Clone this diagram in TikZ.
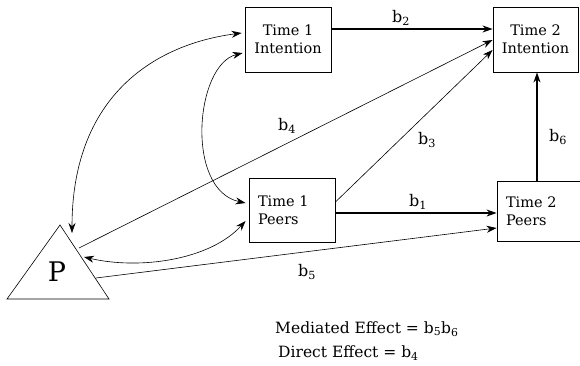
\documentclass[tikz,border=0pt]{standalone}
\usepackage{fontspec}
\setmainfont{DejaVu Serif}
\usetikzlibrary{arrows.meta,calc}
\begin{document}
\begin{tikzpicture}[x=1pt,y=-1pt,
  box/.style={draw,line width=0.9pt,minimum height=65pt,inner sep=0pt,font=\fontsize{14.5}{18}\selectfont},
  arr/.style={-{Stealth[length=10pt,width=7pt]},line width=1.1pt},
  thinarr/.style={-{Stealth[length=10pt,width=7pt]},line width=0.6pt},
  dbl/.style={{Stealth[length=10pt,width=7pt]}-{Stealth[length=10pt,width=7pt]},line width=0.6pt},
  lbl/.style={font=\fontsize{16}{18}\selectfont,inner sep=0pt},
  note/.style={anchor=base west,font=\fontsize{15.5}{18}\selectfont,inner sep=0pt}]
\useasboundingbox (0,0) rectangle (580,366);
\fill[white] (0,0) rectangle (580,366);

% boxes
\node[box,minimum width=86pt,align=center] (t1i) at (288,39.5) {Time 1\\Intention};
\node[box,minimum width=85pt,align=center] (t2i) at (535.5,39.5) {Time 2\\Intention};
\node[box,minimum height=64pt,text width=68pt,inner xsep=9pt,align=left] (t1p) at (292,210) {Time 1\\Peers};
\node[box,minimum height=60pt,text width=65pt,inner xsep=9pt,align=left] (t2p) at (538.5,211) {Time 2\\Peers};

% triangle P
\coordinate (pa) at (60,225);
\coordinate (pl) at (7,299);
\coordinate (pr) at (109,299);
\draw[line width=0.6pt] (pa) -- (pl) -- (pr) -- cycle;
\node[font=\fontsize{27}{30}\selectfont,inner sep=0pt] (P) at (57,272) {P};
\coordinate (p4) at (79,248);
\coordinate (p5) at (96,278);
\coordinate (pc) at (84,257);
\coordinate (ptop) at (72,233);

% straight paths
\draw[arr] ([yshift=10.5pt]t1i.east) -- ([yshift=10.5pt]t2i.west);
\draw[thinarr] (p4) -- ([yshift=-0.5pt]t2i.west);
\draw[thinarr] ([yshift=8pt]t1p.east) -- ([yshift=-10.5pt]t2i.west);
\draw[arr] ([yshift=-3pt]t1p.east) -- ([yshift=-3pt]t1p.east -| t2p.west);
\draw[thinarr] (p5) -- ([yshift=-17pt]t2p.west);
\draw[arr] ([xshift=-1.5pt]t2p.north) -- ([xshift=-1.5pt]t2p.north |- t2i.south);

% curved correlations
\draw[dbl] (ptop) .. controls (72,100) and (150,45) .. ([xshift=-3pt,yshift=6.5pt]t1i.west);
\draw[dbl] ([xshift=-2pt,yshift=-13.5pt]t1i.west) .. controls (195,65) and (185,190) .. ([xshift=-3pt,yshift=7pt]t1p.west);
\draw[dbl] (pc) .. controls (140,270) and (210,260) .. ([xshift=-3pt,yshift=-11pt]t1p.west);

% labels
\node[lbl] (lb2) at (401,18) {b\textsubscript{2}};
\node[lbl] (lb4) at (287,126) {b\textsubscript{4}};
\node[lbl] (lb3) at (427,140) {b\textsubscript{3}};
\node[lbl] (lb6) at (558,137) {b\textsubscript{6}};
\node[lbl] (lb1) at (418,202) {b\textsubscript{1}};
\node[lbl] (lb5) at (307,272) {b\textsubscript{5}};

% notes
\node[note] (med) at (275,333) {Mediated Effect = b\textsubscript{5}b\textsubscript{6}};
\node[note] (dir) at (278,357) {Direct Effect = b\textsubscript{4}};
\end{tikzpicture}
\end{document}
